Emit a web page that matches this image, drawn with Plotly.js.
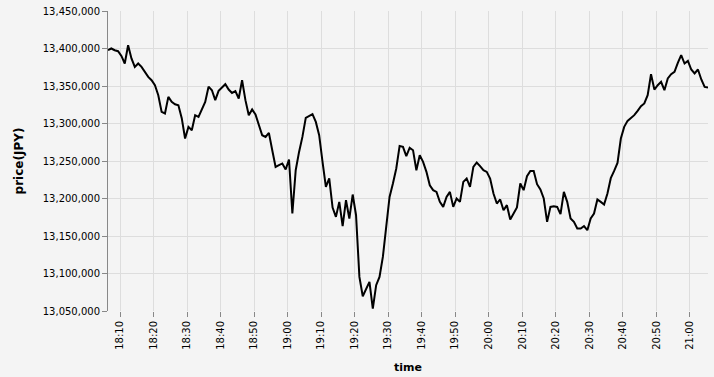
<!DOCTYPE html>
<html>
<head>
<meta charset="utf-8">
<script src="https://cdn.plot.ly/plotly-3.0.1.min.js"></script>
<style>html,body{margin:0;padding:0;background:#f4f4f4;}#chart{width:714px;height:377px;}</style>
</head>
<body>
<div id="chart"></div>
<script>
// Time stamps (one per minute)
const times = [
 "18:06","18:07","18:08","18:09","18:10","18:11","18:12","18:13","18:14","18:15","18:16","18:17","18:18","18:19",
 "18:20","18:21","18:22","18:23","18:24","18:25","18:26","18:27","18:28","18:29","18:30","18:31","18:32","18:33","18:34",
 "18:35","18:36","18:37","18:38","18:39","18:40","18:41","18:42","18:43","18:44","18:45","18:46","18:47","18:48","18:49",
 "18:50","18:51","18:52","18:53","18:54","18:55","18:56","18:57","18:58","18:59",
 "19:00","19:01","19:02","19:03","19:04","19:05","19:06","19:07","19:08","19:09","19:10","19:11","19:12","19:13","19:14",
 "19:15","19:16","19:17","19:18","19:19","19:20","19:21","19:22","19:23","19:24","19:25","19:26","19:27","19:28","19:29",
 "19:30","19:31","19:32","19:33","19:34","19:35","19:36","19:37","19:38","19:39","19:40","19:41","19:42","19:43","19:44",
 "19:45","19:46","19:47","19:48","19:49","19:50","19:51","19:52","19:53","19:54","19:55","19:56","19:57","19:58","19:59",
 "20:00","20:01","20:02","20:03","20:04","20:05","20:06","20:07","20:08","20:09","20:10","20:11","20:12","20:13","20:14",
 "20:15","20:16","20:17","20:18","20:19","20:20","20:21","20:22","20:23","20:24","20:25","20:26","20:27","20:28","20:29",
 "20:30","20:31","20:32","20:33","20:34","20:35","20:36","20:37","20:38","20:39","20:40","20:41","20:42","20:43","20:44",
 "20:45","20:46","20:47","20:48","20:49","20:50","20:51","20:52","20:53","20:54","20:55","20:56","20:57","20:58","20:59",
 "21:00","21:01","21:02","21:03","21:04","21:05"
];
// Price in JPY
const prices = [
 13397700,13400000,13397700,13396400,13390100,13380000,13404400,13386700,13375500,13380000,13375500,13368800,13362100,13357700,
 13351100,13337700,13315500,13313300,13335500,13328800,13325700,13324400,13307100,13280000,13295500,13291100,13311100,13308800,13320000,
 13328800,13349100,13344400,13331100,13343500,13348000,13352400,13345300,13340800,13343100,13333300,13357700,13331100,13311100,13318700,
 13312000,13297700,13284400,13282100,13287500,13264400,13242100,13244400,13246700,13238700,
 13252000,13180000,13237700,13262100,13282100,13307500,13309700,13312400,13302100,13284400,13248800,13215500,13226700,13188000,13175500,
 13195500,13163100,13197700,13173300,13205300,13177700,13095500,13069700,13080000,13088800,13053300,13084400,13095500,13122100,13162100,
 13202100,13220000,13240000,13270100,13268800,13256400,13267700,13264400,13237700,13257700,13248800,13235500,13217700,13211100,13208800,
 13195500,13188800,13202100,13208800,13188800,13200000,13195500,13222100,13226700,13215500,13242100,13248000,13243100,13237700,13235500,
 13226700,13206700,13193300,13198700,13184400,13191100,13172000,13180000,13188000,13220000,13211100,13229700,13236800,13236800,13219100,
 13212000,13200000,13168800,13188800,13189700,13188800,13179100,13208800,13195500,13173300,13168800,13160000,13160000,13163100,13157700,
 13173300,13180000,13198700,13195500,13192000,13206700,13227100,13236800,13247500,13280000,13295500,13303500,13306700,13311100,13316800,
 13323100,13326700,13337700,13365700,13345300,13351100,13355500,13344400,13360000,13365700,13368800,13380800,13391100,13380000,13383500,
 13372000,13366700,13372000,13358700,13348800,13348000
];
const xTitle = "time";
const yTitle = "price(JPY)";

const xs = times.map(t => "2024-01-01 " + t + ":25");
const font = "DejaVu Sans, sans-serif";

Plotly.newPlot("chart", [{
  x: xs, y: prices, type: "scatter", mode: "lines",
  line: {color: "#000000", width: 2},
  hoverinfo: "skip"
}], {
  width: 714, height: 377,
  margin: {l: 108, r: 6, t: 11, b: 66},
  paper_bgcolor: "#f4f4f4", plot_bgcolor: "#f4f4f4",
  showlegend: false,
  font: {family: font, size: 10, color: "#000"},
  xaxis: {
    type: "date",
    range: [xs[0], xs[xs.length - 1]],
    tickformat: "%H:%M", dtick: 600000, tick0: "2024-01-01 18:10:00",
    tickangle: -90,
    ticks: "outside", ticklen: 5, tickcolor: "#888",
    showgrid: true, gridcolor: "#dddddd", gridwidth: 1,
    showline: false, zeroline: false,
    tickfont: {family: font, size: 10, color: "#000"},
    title: {text: xTitle, font: {family: font, size: 11, color: "#000", weight: "bold"}, standoff: 14}
  },
  yaxis: {
    range: [13050000, 13450000], dtick: 50000, tick0: 13050000,
    tickformat: ",d",
    ticks: "outside", ticklen: 5, tickcolor: "#888",
    showgrid: true, gridcolor: "#dddddd", gridwidth: 1,
    showline: true, linecolor: "#888", linewidth: 1,
    zeroline: false,
    tickfont: {family: font, size: 10, color: "#000"},
    title: {text: yTitle, font: {family: font, size: 12, color: "#000", weight: "bold"}, standoff: 16}
  }
}, {staticPlot: true});
</script>
</body>
</html>
